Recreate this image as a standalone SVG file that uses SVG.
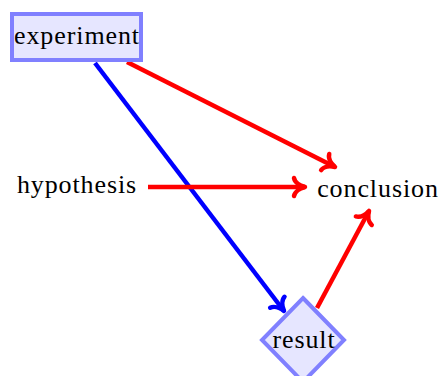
<svg xmlns="http://www.w3.org/2000/svg" width="440" height="376" viewBox="0 0 440 376">
  <defs>
    <marker id="arrRed" markerUnits="userSpaceOnUse" orient="auto" refX="0" refY="0" markerWidth="30" markerHeight="30" viewBox="-15 -15 30 30" overflow="visible">
      <path d="M -11,-9 C -10,-4 -4,-1 0,0 C -4,1 -10,4 -11,9" fill="none" stroke="#ff0000" stroke-width="4.5" stroke-linecap="round" stroke-linejoin="round"/>
    </marker>
    <marker id="arrBlue" markerUnits="userSpaceOnUse" orient="auto" refX="0" refY="0" markerWidth="30" markerHeight="30" viewBox="-15 -15 30 30" overflow="visible">
      <path d="M -11,-9 C -10,-4 -4,-1 0,0 C -4,1 -10,4 -11,9" fill="none" stroke="#0000ff" stroke-width="4.5" stroke-linecap="round" stroke-linejoin="round"/>
    </marker>
  </defs>
  <g id="connectors" fill="none" stroke-width="4.5">
    <line stroke="#0000ff" x1="95" y1="63" x2="284" y2="311" marker-end="url(#arrBlue)"/>
    <line stroke="#ff0000" x1="127" y1="62" x2="335" y2="167" marker-end="url(#arrRed)"/>
    <line stroke="#ff0000" x1="148" y1="187" x2="305" y2="187" marker-end="url(#arrRed)"/>
    <line stroke="#ff0000" x1="317" y1="308" x2="369" y2="211" marker-end="url(#arrRed)"/>
  </g>
  <g id="experiment">
    <rect fill="#e6e6ff" stroke="#8080ff" stroke-width="4" x="12" y="14" width="129" height="46"/>
    <text x="77" y="44" font-family="Liberation Serif" font-size="26" text-anchor="middle" letter-spacing="0.9">experiment</text>
  </g>
  <g id="hypothesis">
    <text x="77" y="193" font-family="Liberation Serif" font-size="26" text-anchor="middle" letter-spacing="0.9">hypothesis</text>
  </g>
  <g id="conclusion">
    <text x="378" y="197" font-family="Liberation Serif" font-size="26" text-anchor="middle" letter-spacing="0.9">conclusion</text>
  </g>
  <g id="result">
    <polygon fill="#e6e6ff" stroke="#8080ff" stroke-width="4" points="303,298 344,340 303,382 262,340"/>
    <text x="304" y="348" font-family="Liberation Serif" font-size="26" text-anchor="middle" letter-spacing="0.9">result</text>
  </g>
</svg>
